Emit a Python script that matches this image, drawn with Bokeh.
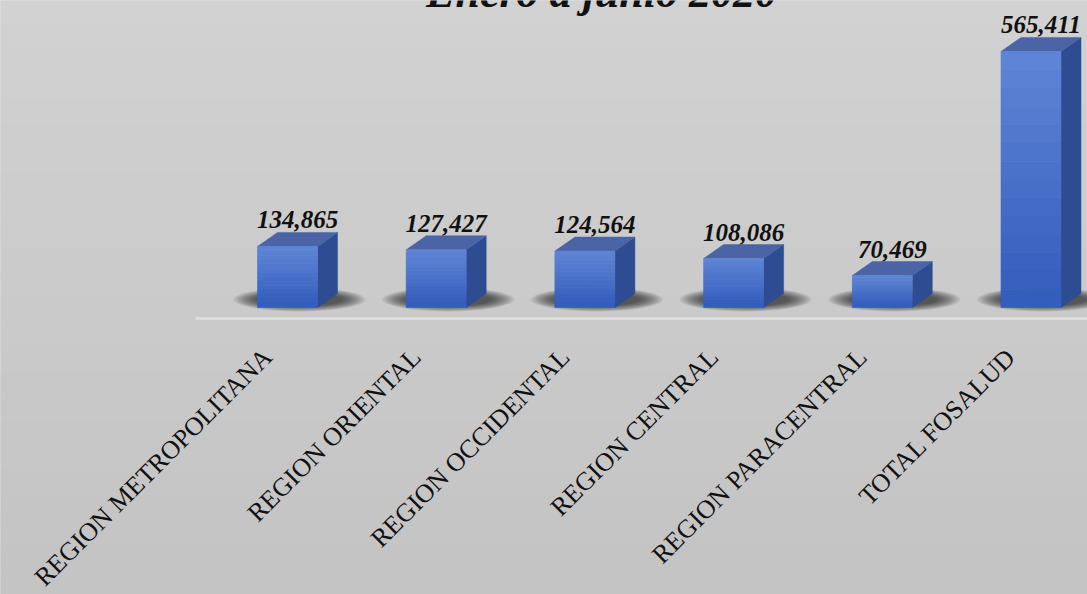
import numpy as np
from bokeh.plotting import figure
from bokeh.models import ColumnDataSource, Range1d
from bokeh.core.properties import value
from bokeh.embed import file_html
from bokeh.resources import INLINE

title_text = "Enero a junio 2020"
categories = ["REGION METROPOLITANA", "REGION ORIENTAL", "REGION OCCIDENTAL",
              "REGION CENTRAL", "REGION PARACENTRAL", "TOTAL FOSALUD"]
values = [134865, 127427, 124564, 108086, 70469, 565411]

W, H = 1087, 594
PX_X = 148.7          # pixels per category step
PX_Y = 1.0 / 2208.0   # pixels per unit value
x0 = -287 / PX_X
x1 = x0 + W / PX_X
y1 = 307 / PX_Y
y0 = y1 - H / PX_Y
ux = 1.0 / PX_X   # one pixel in x data units
uy = 1.0 / PX_Y   # one pixel in y data units

p = figure(width=W, height=H, output_backend="svg", toolbar_location=None,
           x_range=Range1d(x0, x1), y_range=Range1d(y0, y1),
           min_border=0, outline_line_color=None)
p.axis.visible = False
p.grid.visible = False
p.background_fill_color = "#cbcbcb"
p.border_fill_color = "#cbcbcb"

# background gradient bands
nb = 24
top_c = np.array([210, 210, 210]); bot_c = np.array([196, 196, 196])
for k in range(nb):
    t = k / (nb - 1)
    c = "#%02x%02x%02x" % tuple((top_c * (1 - t) + bot_c * t).astype(int))
    yt = y1 - (y1 - y0) * k / nb
    yb = y1 - (y1 - y0) * (k + 1) / nb
    p.quad(left=x0, right=x1, top=yt, bottom=yb, fill_color=c, line_color=c, line_width=1)

idx = np.arange(len(values))
vals = np.array(values, dtype=float)
w = 60 * ux
dx = 20 * ux
dy = 14 * uy

# floor edge line
p.segment(x0=[-0.62], y0=[-11 * uy], x1=[x1], y1=[-11 * uy],
          line_color="#dddddd", line_width=3)

# soft shadows under the boxes
for k in range(10):
    p.ellipse(x=idx + 12 * ux, y=np.full(len(idx), 8 * uy),
              width=(132 - 5 * k) * ux, height=(24 - 1.2 * k) * uy,
              fill_color="black", fill_alpha=0.08, line_color=None)

left = idx - w / 2
right = idx + w / 2

# side faces
side_xs = [[r, r + dx, r + dx, r] for r in right]
side_ys = [[0, dy, v + dy, v] for v in vals]
p.patches(side_xs, side_ys, fill_color="#2d4c91", line_color="#2d4c91", line_width=0.5)

# top faces
top_xs = [[l, r, r + dx, l + dx] for l, r in zip(left, right)]
top_ys = [[v, v, v + dy, v + dy] for v in vals]
p.patches(top_xs, top_ys, fill_color="#4a64a5", line_color="#4a64a5", line_width=0.5)

# front faces with vertical gradient
ns = 14
ftop = np.array([94, 132, 213]); fbot = np.array([52, 94, 190])
for k in range(ns):
    t = k / (ns - 1)
    c = "#%02x%02x%02x" % tuple((ftop * (1 - t) + fbot * t).astype(int))
    p.quad(left=left, right=right, top=vals * (1 - k / ns), bottom=vals * (1 - (k + 1) / ns),
           fill_color=c, line_color=c, line_width=0.6)

# value labels
src = ColumnDataSource(dict(x=idx + dx / 2, y=vals + dy + 4 * uy,
                            t=[f"{v:,}" for v in values]))
p.text(x="x", y="y", text="t", source=src, text_align="center", text_baseline="bottom",
       text_font=value("Liberation Serif"), text_font_style="bold italic",
       text_font_size="25px", text_color="#111111")

# category labels
src2 = ColumnDataSource(dict(x=idx - 30 * ux, y=np.full(len(idx), -35 * uy), t=categories))
p.text(x="x", y="y", text="t", source=src2, angle=np.pi / 4, text_align="right",
       text_baseline="top", text_font=value("Liberation Serif"),
       text_font_size="26px", text_color="#111111")

# title (cut at the top as in the reference)
p.text(x=[(601 - 287) * ux], y=[(307 + 8) * uy], text=[title_text], text_align="center",
       text_baseline="alphabetic", text_font=value("Liberation Serif"),
       text_font_style="bold italic", text_font_size="44px", text_color="#111111")

open("out.html", "w").write(file_html(p, INLINE))
